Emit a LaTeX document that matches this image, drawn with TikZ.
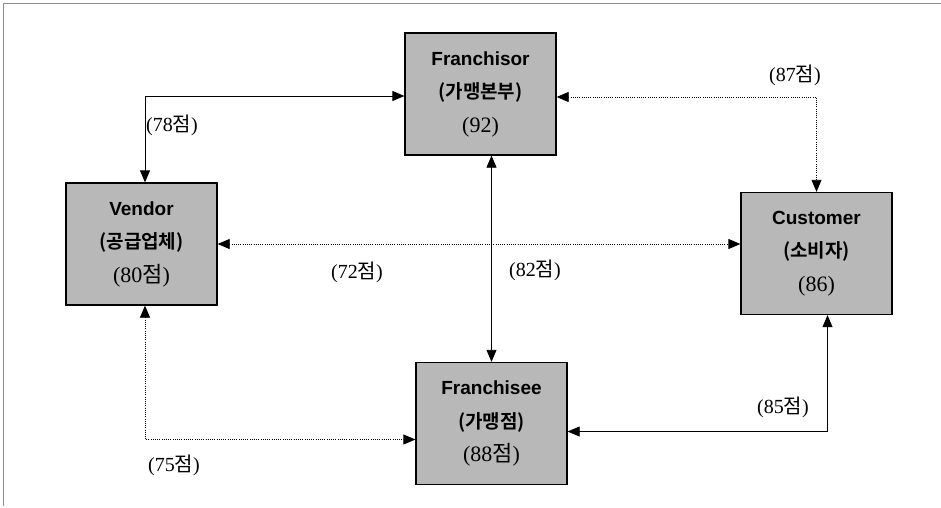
\documentclass[tikz,border=0pt]{standalone}
\usepackage{fontspec}
\setmainfont{Liberation Serif}
\newfontfamily\boxfont{Liberation Sans}
\newfontfamily\kr{Noto Sans CJK KR}[BoldFont={* Bold}]
\usetikzlibrary{arrows.meta}
\tikzset{
  party/.style={draw, line width=1.3pt, fill=black!28, minimum width=151pt, minimum height=122pt,
    inner sep=0pt, align=center, font=\fontsize{19}{33.5}\selectfont},
  solidlink/.style={line width=0.8pt, {Triangle[length=12pt,width=10pt]}-{Triangle[length=12pt,width=10pt]}},
  dotlink/.style={solidlink, dash pattern=on 1pt off 1.2pt},
  score/.style={font=\fontsize{20}{20}\selectfont}
}
\newcommand\jum{{\kr 점}}
\newcommand\scoreline{\fontsize{22}{33.5}\selectfont}
\begin{document}
\begin{tikzpicture}[x=1pt, y=-1pt, line cap=butt, line join=miter]
\useasboundingbox (0,0) rectangle (941,507);
% page frame (left and top only)
\draw[black!45, line width=1pt] (3,506) -- (3,3) -- (941,3);
% the four parties
\node[party] (franchisor) at (480.5,94) {{\boxfont\bfseries Franchisor}\\{\kr\bfseries (가맹본부)}\\{\scoreline (92)}};
\node[party] (vendor) at (141.5,244) {{\boxfont\bfseries Vendor}\\{\kr\bfseries (공급업체)}\\{\scoreline (80\jum)}};
\node[party] (customer) at (816.5,253.5) {{\boxfont\bfseries Customer}\\{\kr\bfseries (소비자)}\\{\scoreline (86)}};
\node[party] (franchisee) at (491.5,423.5) {{\boxfont\bfseries Franchisee}\\{\kr\bfseries (가맹점)}\\{\scoreline (88\jum)}};
% links
\draw[solidlink] ([xshift=3.5pt]vendor.north) |- ([yshift=-2pt]franchisor.west);
\draw[dotlink] ([yshift=-3pt]franchisor.east) -| (customer.north);
\draw[solidlink] (franchisee.north |- franchisor.south) -- (franchisee.north);
\draw[dotlink] (vendor.east) -- (vendor.east -| customer.west);
\draw[dotlink] ([xshift=3.5pt]vendor.south) |- ([yshift=-16pt]franchisee.west);
\draw[solidlink] ([yshift=-8pt]franchisee.east) -| ([xshift=11pt]customer.south);
% scores
\node[score] (s78) at (172,125) {(78\jum)};
\node[score] (s87) at (795,75) {(87\jum)};
\node[score] (s72) at (357,272) {(72\jum)};
\node[score] (s82) at (535,270) {(82\jum)};
\node[score] (s75) at (174,465) {(75\jum)};
\node[score] (s85) at (783,407) {(85\jum)};
\end{tikzpicture}
\end{document}
